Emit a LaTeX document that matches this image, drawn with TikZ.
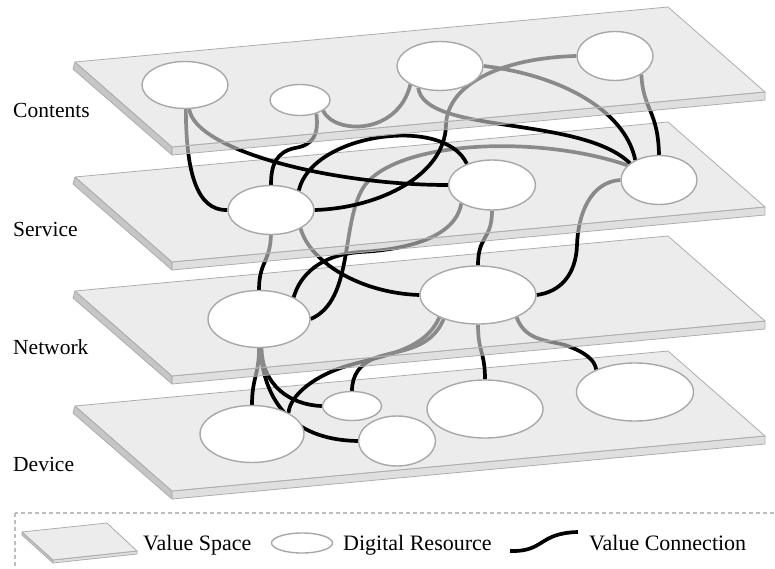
\documentclass[tikz,border=0pt]{standalone}
\usepackage{fontspec}
\setmainfont{Liberation Serif}
\usetikzlibrary{shapes.geometric}

\definecolor{colTop}{gray}{0.878}
\definecolor{colSide}{gray}{0.64}
\definecolor{colFront}{gray}{0.80}
\definecolor{colEdge}{gray}{0.68}
\definecolor{colRes}{gray}{0.66}
\definecolor{colDash}{gray}{0.74}

\pgfdeclarelayer{plD}
\pgfdeclarelayer{lkND}
\pgfdeclarelayer{plN}
\pgfdeclarelayer{lkSN}
\pgfdeclarelayer{plS}
\pgfdeclarelayer{lkCS}
\pgfdeclarelayer{plC}
\pgfsetlayers{plD,lkND,plN,lkSN,plS,lkCS,plC,main}

\tikzset{
    platetop/.style={fill=colTop, fill opacity=0.62, draw=colEdge, line width=0.8pt, line join=round},
    plateleft/.style={platetop, fill=colSide},
    platefrnt/.style={platetop, fill=colFront},
    res/.style={ellipse, draw=colRes, line width=1.4pt, fill=white, inner sep=0pt},
    link/.style={line width=3.7pt, draw=black},
    lbl/.style={anchor=base west, inner sep=0pt, font=\fontsize{21.5}{24}\selectfont},
    legtxt/.style={anchor=base west, inner sep=0pt, font=\fontsize{22}{24}\selectfont},
    legframe/.style={draw=colDash, line width=1.2pt, dash pattern=on 4pt off 3pt}
}

% one value space, shifted down by #1
\newcommand{\valueplate}[1]{%
    \begin{scope}[shift={(0,#1)}]
        \filldraw[plateleft] (75,62) -- (172,147) -- (172,155) -- (73,69) -- cycle;
        \filldraw[platefrnt] (172,147) -- (765,92) -- (765,100) -- (172,155) -- cycle;
        \filldraw[platetop] (75,62) -- (668,7) -- (765,92) -- (172,147) -- cycle;
    \end{scope}}

\begin{document}
\begin{tikzpicture}[x=1pt, y=-1pt]
            \useasboundingbox (0,0) rectangle (775,569);

            % value spaces
            \begin{pgfonlayer}{plC}\valueplate{0}\end{pgfonlayer}
            \begin{pgfonlayer}{plS}\valueplate{115}\end{pgfonlayer}
            \begin{pgfonlayer}{plN}\valueplate{229}\end{pgfonlayer}
            \begin{pgfonlayer}{plD}\valueplate{344}\end{pgfonlayer}

            \node[lbl] (lcont) at (13,118) {Contents};
            \node[lbl] (lserv) at (13,236) {Service};
            \node[lbl] (lnet) at (13,354) {Network};
            \node[lbl] (ldev) at (13,471) {Device};

            % digital resources
            \node[res, minimum width=86pt, minimum height=47pt] (c1) at (185,85) {};
            \node[res, minimum width=60pt, minimum height=31pt] (c2) at (300,100) {};
            \node[res, minimum width=86pt, minimum height=49pt] (c3) at (440,66) {};
            \node[res, minimum width=76pt, minimum height=49pt] (c4) at (615,56) {};

            \node[res, minimum width=86pt, minimum height=49pt] (s1) at (271,210) {};
            \node[res, minimum width=87pt, minimum height=50pt] (s2) at (492,185) {};
            \node[res, minimum width=76pt, minimum height=49pt] (s3) at (659,180) {};

            \node[res, minimum width=102pt, minimum height=57pt] (n1) at (259,319) {};
            \node[res, minimum width=116pt, minimum height=58pt] (n2) at (478,295) {};

            \node[res, minimum width=104pt, minimum height=57pt] (d1) at (252,434) {};
            \node[res, minimum width=59pt, minimum height=29pt] (d2) at (352,406) {};
            \node[res, minimum width=77pt, minimum height=50pt] (d3) at (397,441) {};
            \node[res, minimum width=116pt, minimum height=58pt] (d4) at (485,409) {};
            \node[res, minimum width=117pt, minimum height=58pt] (d5) at (635,392) {};

            % value connections
            \begin{pgfonlayer}{lkCS}
            \draw[link] (c1.272) .. controls (186,170) and (196,211) .. (s1.west);
            \draw[link] (c1.280) .. controls (195,150) and (330,185) .. (s2.west);
            \draw[link] (c2.-40) .. controls (319,135) and (313,145) .. (295,148) .. controls (276,152) and (271,165) .. (s1.north);
            \draw[link] (c2.-25) .. controls (335,135) and (398,135) .. (c3.212);
            \draw[link] (c3.225) .. controls (425,135) and (580,115) .. (s3.150);
            \draw[link] (c3.east) .. controls (560,75) and (625,110) .. (s3.140);
            \draw[link] (c4.west) .. controls (500,58) and (447,85) .. (446,125) .. controls (445,175) and (380,208) .. (s1.east);
            \draw[link] (c4.-35) .. controls (643,110) and (658,110) .. (s3.north);
            \draw[link] (s1.35) .. controls (312,133) and (445,115) .. (s2.140);
            \end{pgfonlayer}

            \begin{pgfonlayer}{lkSN}
            \draw[link] (s1.south) .. controls (270,262) and (259,262) .. (n1.north);
            \draw[link] (s1.-32) .. controls (310,262) and (360,293) .. (n2.west);
            \draw[link] (s2.211) .. controls (455,240) and (400,250) .. (360,252) .. controls (320,255) and (300,275) .. (n1.32);
            \draw[link] (s3.155) .. controls (540,135) and (400,140) .. (365,185) .. controls (340,220) and (355,300) .. (n1.east);
            \draw[link] (s2.south) .. controls (492,240) and (478,235) .. (n2.north);
            \draw[link] (s3.west) .. controls (590,182) and (578,215) .. (577,245) .. controls (576,275) and (560,292) .. (n2.east);
            \end{pgfonlayer}

            \begin{pgfonlayer}{lkND}
            \draw[link] (n1.south) .. controls (259,375) and (252,378) .. (d1.north);
            \draw[link] (n1.275) .. controls (262,385) and (290,405) .. (d2.west);
            \draw[link] (n1.272) .. controls (265,410) and (300,440) .. (d3.west);
            \draw[link] (n2.210) .. controls (425,350) and (385,355) .. (350,365) .. controls (315,375) and (290,395) .. (d1.30);
            \draw[link] (n2.215) .. controls (430,352) and (395,350) .. (375,358) .. controls (360,364) and (352,375) .. (d2.north);
            \draw[link] (n2.south) .. controls (478,352) and (485,352) .. (d4.north);
            \draw[link] (n2.-30) .. controls (525,340) and (545,340) .. (565,345) .. controls (585,352) and (595,360) .. (d5.150);
            \end{pgfonlayer}

            % legend
            \begin{scope}
                \clip (0,0) rectangle (775,569);
                \draw[legframe] (15,513) rectangle (790,590);
            \end{scope}
            \filldraw[plateleft] (22,532) -- (53,560) -- (53,563) -- (22,535) -- cycle;
            \filldraw[platefrnt] (53,560) -- (137,551) -- (137,554) -- (53,563) -- cycle;
            \filldraw[platetop] (22,532) -- (107,523) -- (137,551) -- (53,560) -- cycle;
            \node[legtxt] (tspace) at (143,550) {Value Space};
            \node[res, minimum width=61pt, minimum height=20pt] (iconres) at (302,543) {};
            \node[legtxt] (tres) at (343,550) {Digital Resource};
            \coordinate (wavea) at (510,551);
            \coordinate (waveb) at (578,532);
            \draw[link] (wavea) .. controls (545,552) and (538,533) .. (waveb);
            \node[legtxt] (tconn) at (589,550) {Value Connection};
        \end{tikzpicture}
\end{document}
